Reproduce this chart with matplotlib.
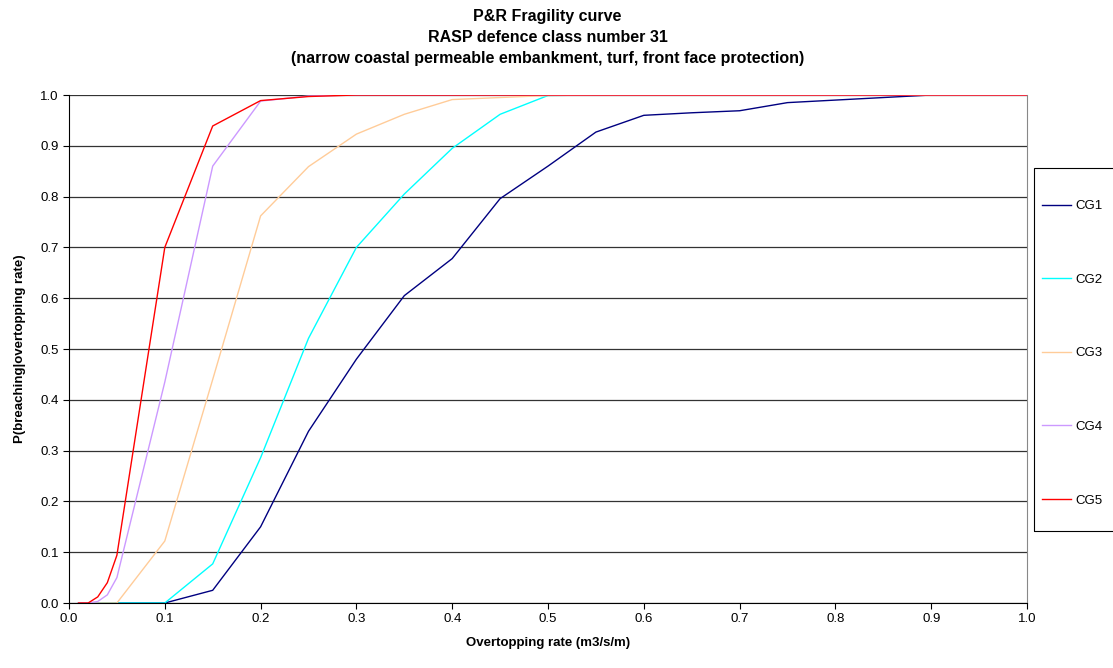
import numpy as np
import matplotlib
matplotlib.use("Agg")
import matplotlib.pyplot as plt
from matplotlib.patches import Rectangle

plt.rcParams['font.family'] = ['Liberation Sans', 'DejaVu Sans']
plt.rcParams['font.size'] = 9.5

# overtopping rate (m3/s/m)
q = [0.01, 0.02, 0.03, 0.04, 0.05, 0.1, 0.15, 0.2, 0.25, 0.3, 0.35, 0.4, 0.45,
     0.5, 0.55, 0.6, 0.65, 0.7, 0.75, 0.8, 0.85, 0.9, 0.95, 1.0]

cg1 = [0, 0, 0, 0, 0, 0, 0.025, 0.15, 0.338, 0.48, 0.605, 0.678, 0.796,
       0.86, 0.927, 0.96, 0.965, 0.969, 0.985, 0.99, 0.995, 1.0, 1.0, 1.0]
cg2 = [0, 0, 0, 0, 0, 0, 0.077, 0.286, 0.521, 0.70, 0.805, 0.895, 0.962,
       0.999, 1.0, 1.0, 1.0, 1.0, 1.0, 1.0, 1.0, 1.0, 1.0, 1.0]
cg3 = [0, 0, 0, 0, 0, 0.122, 0.44, 0.762, 0.859, 0.923, 0.962, 0.991, 0.995,
       0.999, 1.0, 1.0, 1.0, 1.0, 1.0, 1.0, 1.0, 1.0, 1.0, 1.0]
cg4 = [0, 0, 0.003, 0.016, 0.05, 0.435, 0.86, 0.988, 0.998, 1.0, 1.0, 1.0, 1.0,
       1.0, 1.0, 1.0, 1.0, 1.0, 1.0, 1.0, 1.0, 1.0, 1.0, 1.0]
cg5 = [0, 0, 0.012, 0.04, 0.094, 0.70, 0.939, 0.989, 0.997, 1.0, 1.0, 1.0, 1.0,
       1.0, 1.0, 1.0, 1.0, 1.0, 1.0, 1.0, 1.0, 1.0, 1.0, 1.0]

series = [("CG1", cg1, "#000080"), ("CG2", cg2, "#00FFFF"), ("CG3", cg3, "#FFCC99"),
          ("CG4", cg4, "#CC99FF"), ("CG5", cg5, "#FF0000")]

W, H = 1113, 668
fig = plt.figure(figsize=(W / 100, H / 100), dpi=100)
ax = fig.add_axes([69 / W, 1 - 603 / H, 958 / W, 508 / H])

for name, vals, col in series:
    ax.plot(q, vals, color=col, lw=1.0, label=name)

ax.set_xlim(0, 1.0)
ax.set_ylim(0, 1.0)
ax.set_xticks(np.arange(0, 1.01, 0.1))
ax.set_yticks(np.arange(0, 1.01, 0.1))
ax.xaxis.set_major_formatter(plt.FormatStrFormatter('%.1f'))
ax.yaxis.set_major_formatter(plt.FormatStrFormatter('%.1f'))
ax.yaxis.grid(True, color='#333333', lw=0.9)
ax.set_axisbelow(True)
ax.tick_params(direction='out', length=4, width=0.8, colors='black')
ax.spines['top'].set_visible(False)
ax.spines['right'].set_color('#888888')

ax.set_xlabel("Overtopping rate (m3/s/m)", fontweight='bold', fontsize=9.5, labelpad=8)
ax.set_ylabel("P(breaching|overtopping rate)", fontweight='bold', fontsize=9.5, labelpad=10)
fig.text(0.492, 0.986, "P&R Fragility curve\nRASP defence class number 31\n"
         "(narrow coastal permeable embankment, turf, front face protection)",
         ha='center', va='top', fontweight='bold', fontsize=11.5, linespacing=1.5)

# legend frame, running off the right edge like the original
fig.patches.append(Rectangle((1034 / W, 1 - 531 / H), 100 / W, 363 / H,
                             transform=fig.transFigure, fill=False,
                             edgecolor='black', lw=0.8))
fig.legend(loc='upper left', bbox_to_anchor=(1042 / W, 1 - 200 / H),
           frameon=False, labelspacing=4.65, borderpad=0,
           handlelength=2.2, handletextpad=0.3, borderaxespad=0, fontsize=9.5)

fig.savefig("out.png", dpi=100)
